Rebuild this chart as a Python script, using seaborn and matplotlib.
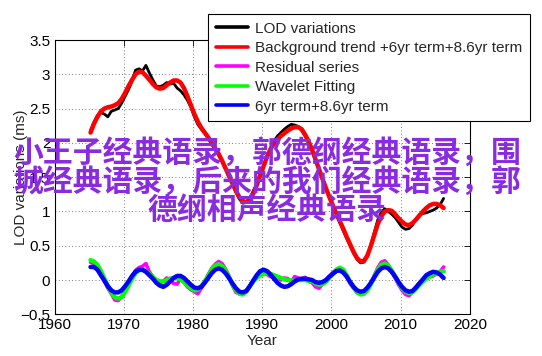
import matplotlib
matplotlib.use("Agg")
import matplotlib.pyplot as plt
import seaborn as sns
import pandas as pd

# ---- data ----
years = [round(1965.2 + 0.5 * i, 1) for i in range(103)]

lod = [
    2.18, 2.30, 2.40, 2.44, 2.42, 2.38, 2.46, 2.48, 2.50, 2.58,
    2.68, 2.78, 2.90, 3.06, 3.08, 3.05, 3.13, 3.02, 2.92, 2.83,
    2.82, 2.84, 2.88, 2.86, 2.87, 2.80, 2.76, 2.70, 2.62, 2.52,
    2.38, 2.27, 2.20, 2.14, 2.07, 1.99, 1.90, 1.82, 1.73, 1.62,
    1.50, 1.40, 1.28, 1.18, 1.12, 1.13, 1.19, 1.30, 1.40, 1.55,
    1.67, 1.79, 1.92, 2.03, 2.10, 2.15, 2.20, 2.24, 2.27, 2.26,
    2.24, 2.18, 2.10, 1.99, 1.88, 1.74, 1.60, 1.46, 1.33, 1.20,
    1.08, 0.96, 0.84, 0.72, 0.61, 0.50, 0.39, 0.30, 0.25, 0.26,
    0.34, 0.52, 0.70, 0.88, 0.99, 1.04, 1.00, 0.96, 0.91, 0.84,
    0.77, 0.74, 0.75, 0.80, 0.89, 0.95, 0.97, 0.98, 1.00, 1.02,
    1.05, 1.10, 1.19,
]

background = [
    2.15, 2.28, 2.38, 2.46, 2.50, 2.52, 2.53, 2.55, 2.58, 2.64,
    2.73, 2.83, 2.92, 3.00, 3.04, 3.03, 2.98, 2.92, 2.86, 2.81,
    2.79, 2.80, 2.84, 2.88, 2.91, 2.91, 2.88, 2.80, 2.68, 2.55,
    2.42, 2.31, 2.22, 2.15, 2.08, 2.00, 1.92, 1.84, 1.74, 1.63,
    1.52, 1.41, 1.30, 1.21, 1.15, 1.14, 1.17, 1.26, 1.38, 1.52,
    1.66, 1.80, 1.91, 1.99, 2.05, 2.10, 2.14, 2.18, 2.21, 2.23,
    2.23, 2.20, 2.12, 2.02, 1.90, 1.76, 1.62, 1.48, 1.34, 1.21,
    1.09, 0.97, 0.86, 0.75, 0.63, 0.52, 0.41, 0.32, 0.27, 0.28,
    0.36, 0.50, 0.66, 0.82, 0.93, 1.00, 1.02, 1.01, 0.96, 0.90,
    0.85, 0.81, 0.80, 0.83, 0.88, 0.94, 1.00, 1.05, 1.09, 1.11,
    1.11, 1.09, 1.05,
]

residual = [
    0.26, 0.24, 0.20, 0.12, -0.01, -0.12, -0.20, -0.29, -0.30, -0.24,
    -0.16, -0.06, 0.05, 0.14, 0.18, 0.20, 0.24, 0.12, 0.05, -0.01,
    -0.04, -0.02, 0.03, 0.01, -0.05, -0.06, 0.02, -0.03, -0.10, -0.14,
    -0.17, -0.20, -0.12, -0.03, 0.08, 0.17, 0.23, 0.27, 0.24, 0.16,
    0.06, -0.08, -0.18, -0.20, -0.18, -0.16, -0.09, 0.00, 0.05, 0.08,
    0.10, 0.08, 0.05, 0.07, 0.04, 0.00, 0.03, 0.02, -0.02, 0.05,
    0.03, 0.01, 0.04, -0.02, -0.04, -0.10, -0.12, -0.06, -0.02, 0.05,
    0.11, 0.15, 0.17, 0.12, 0.05, -0.05, -0.12, -0.18, -0.21, -0.18,
    -0.14, -0.05, 0.07, 0.18, 0.26, 0.28, 0.22, 0.13, 0.03, -0.07,
    -0.15, -0.21, -0.23, -0.17, -0.10, -0.04, 0.00, 0.03, 0.05, 0.06,
    0.09, 0.12, 0.19,
]

wavelet = [
    0.29, 0.27, 0.22, 0.13, 0.02, -0.09, -0.18, -0.25, -0.27, -0.25,
    -0.17, -0.08, 0.02, 0.10, 0.14, 0.15, 0.13, 0.09, 0.04, 0.00,
    -0.02, -0.02, 0.00, 0.02, 0.03, 0.03, 0.01, -0.03, -0.08, -0.12,
    -0.15, -0.14, -0.09, -0.02, 0.06, 0.15, 0.21, 0.23, 0.20, 0.14,
    0.04, -0.07, -0.15, -0.20, -0.21, -0.17, -0.09, -0.02, 0.03, 0.07,
    0.09, 0.10, 0.09, 0.07, 0.05, 0.03, 0.01, 0.00, -0.01, -0.01,
    0.00, 0.00, 0.00, -0.01, -0.02, -0.05, -0.07, -0.06, -0.03, 0.03,
    0.09, 0.15, 0.18, 0.15, 0.07, -0.03, -0.11, -0.18, -0.21, -0.20,
    -0.15, -0.06, 0.05, 0.15, 0.22, 0.24, 0.21, 0.14, 0.05, -0.04,
    -0.12, -0.17, -0.19, -0.18, -0.13, -0.07, -0.02, 0.02, 0.05, 0.08,
    0.10, 0.12, 0.13,
]

terms = [
    0.19, 0.19, 0.15, 0.07, -0.01, -0.09, -0.15, -0.18, -0.18, -0.15,
    -0.09, -0.02, 0.06, 0.12, 0.15, 0.15, 0.12, 0.07, 0.02, -0.04,
    -0.08, -0.10, -0.07, -0.02, 0.03, 0.06, 0.06, 0.03, -0.02, -0.07,
    -0.11, -0.12, -0.10, -0.04, 0.03, 0.10, 0.15, 0.17, 0.15, 0.10,
    0.03, -0.05, -0.12, -0.17, -0.18, -0.16, -0.09, -0.01, 0.07, 0.13,
    0.15, 0.13, 0.08, 0.02, -0.04, -0.08, -0.10, -0.09, -0.06, -0.02,
    0.01, 0.02, 0.02, 0.01, 0.00, -0.03, -0.04, -0.03, 0.00, 0.05,
    0.09, 0.13, 0.14, 0.11, 0.05, -0.03, -0.10, -0.15, -0.17, -0.16,
    -0.11, -0.04, 0.04, 0.12, 0.17, 0.19, 0.17, 0.12, 0.05, -0.03,
    -0.10, -0.15, -0.17, -0.16, -0.11, -0.05, 0.01, 0.07, 0.10, 0.12,
    0.11, 0.08, 0.03,
]

labels = ["LOD variations", "Background trend +6yr term+8.6yr term",
          "Residual series", "Wavelet Fitting", "6yr term+8.6yr term"]
colors = ["#000000", "#ff0000", "#ff00ff", "#00ff00", "#0000ff"]
widths = [2.0, 3.2, 2.6, 3.2, 3.2]

xticks = [1960, 1970, 1980, 1990, 2000, 2010, 2020]
yticks = [-0.5, 0, 0.5, 1, 1.5, 2, 2.5, 3, 3.5]
ytick_labels = ["\u22120.5", "0", "0.5", "1", "1.5", "2", "2.5", "3", "3.5"]

watermark = ("小王子经典语录，郭德纲经典语录，围\n"
             "城经典语录，后来的我们经典语录，郭\n"
             "德纲相声经典语录")

# ---- figure ----
sns.set_style("white")
plt.rcParams["font.family"] = ["Liberation Sans", "DejaVu Sans"]
plt.rcParams["font.size"] = 11

fig = plt.figure(figsize=(5.42, 3.56), dpi=100)
ax = fig.add_axes([0.1006, 0.1171, 0.7664, 0.7705])

series = [lod, background, residual, wavelet, terms]
for vals, lab, col, lw in zip(series, labels, colors, widths):
    df = pd.DataFrame({"Year": years, "v": vals})
    sns.lineplot(data=df, x="Year", y="v", ax=ax, color=col, lw=lw,
                 label=lab, sort=False, estimator=None)

ax.set_xlim(1960, 2020)
ax.set_ylim(-0.5, 3.5)
ax.set_xticks(xticks)
ax.set_yticks(yticks)
ax.set_yticklabels(ytick_labels)
ax.set_xlabel("Year", fontsize=11, labelpad=1)
ax.set_ylabel("LOD variations (ms)", fontsize=11)
ax.yaxis.set_label_coords(-0.064, 0.5)
ax.grid(True, linestyle=(0, (1, 3)), color="#555555", linewidth=0.6)
ax.tick_params(direction="in", top=True, right=True, length=4,
               width=0.6, labelsize=11, colors="black", pad=3)
for s in ax.spines.values():
    s.set_color("black")
    s.set_linewidth(0.8)

handles, labs = ax.get_legend_handles_labels()
ax.get_legend().remove()
leg = fig.legend(handles, labs, loc="upper left",
                 bbox_to_anchor=(0.3838, 0.9607), borderaxespad=0,
                 frameon=True, fancybox=False, framealpha=1,
                 edgecolor="black", fontsize=11, handlelength=2.1,
                 handletextpad=0.5, labelspacing=0.36, borderpad=0.5)
leg.get_frame().set_linewidth(0.8)
for h in leg.get_lines():
    h.set_linewidth(2.6)

fig.text(0.493, 0.49, watermark, ha="center", va="center",
         multialignment="center", fontsize=21.5, color="#8A2BE2",
         family=["Noto Sans CJK SC", "DejaVu Sans"], fontweight="bold",
         linespacing=0.95, zorder=20)

fig.savefig("out.png", dpi=100)
